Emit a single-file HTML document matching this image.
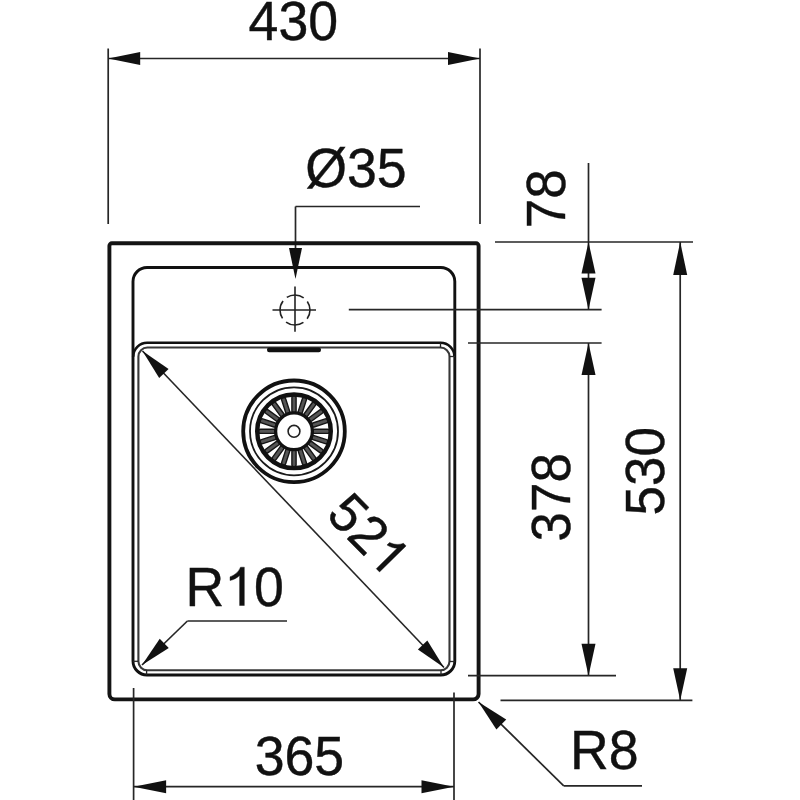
<!DOCTYPE html>
<html><head><meta charset="utf-8"><style>html,body{margin:0;padding:0;background:#fff;width:800px;height:800px;overflow:hidden}svg{display:block}text{font-family:"Liberation Sans",sans-serif}</style></head>
<body>
<svg width="800" height="800" viewBox="0 0 800 800">
<rect width="800" height="800" fill="#fff"/>
<line x1="108.2" y1="48.5" x2="108.2" y2="224" stroke="#262626" stroke-width="1.7"/>
<line x1="480" y1="48.5" x2="480" y2="224" stroke="#262626" stroke-width="1.7"/>
<line x1="108.2" y1="58.5" x2="480" y2="58.5" stroke="#262626" stroke-width="1.7"/>
<polygon points="108.20,58.50 140.20,52.00 140.20,65.00" fill="#111"/>
<polygon points="480.00,58.50 448.00,65.00 448.00,52.00" fill="#111"/>
<line x1="295.5" y1="206.5" x2="420" y2="206.5" stroke="#262626" stroke-width="1.7"/>
<line x1="295.5" y1="206.5" x2="295.5" y2="270" stroke="#262626" stroke-width="1.7"/>
<polygon points="295.50,279.00 289.00,248.00 302.00,248.00" fill="#111"/>
<path d="M111.9,243.3 L476.1,243.3 A2.5,2.5 0 0 1 478.6,245.8 L478.6,693.9 A5.5,5.5 0 0 1 473.1,699.4 L114.9,699.4 A5.5,5.5 0 0 1 109.4,693.9 L109.4,245.8 A2.5,2.5 0 0 1 111.9,243.3 Z" fill="none" stroke="#141414" stroke-width="3.9"/>
<rect x="133" y="267.5" width="321.8" height="407.5" rx="14" fill="none" stroke="#111" stroke-width="2.9"/>
<path d="M133.2,356.8 A14,14 0 0 1 147.2,342.8 L440.5,342.8 A14,14 0 0 1 454.5,356.8" fill="none" stroke="#111" stroke-width="2.6"/>
<rect x="138.4" y="347.5" width="311.1" height="322.8" rx="9" fill="none" stroke="#383838" stroke-width="2.1"/>
<line x1="440.5" y1="342.8" x2="440.5" y2="347.5" stroke="#262626" stroke-width="1.3"/>
<line x1="146.6" y1="670.3" x2="146.6" y2="675" stroke="#262626" stroke-width="1.3"/>
<line x1="441" y1="670.3" x2="441" y2="675" stroke="#262626" stroke-width="1.3"/>
<line x1="449.5" y1="661.5" x2="455" y2="661.5" stroke="#262626" stroke-width="1.3"/>
<line x1="133" y1="661.3" x2="138.4" y2="661.3" stroke="#262626" stroke-width="1.3"/>
<line x1="449.5" y1="356.5" x2="455" y2="356.5" stroke="#262626" stroke-width="1.3"/>
<rect x="267" y="347.4" width="54" height="4.8" rx="2.2" fill="#111"/>
<circle cx="295" cy="310" r="15" fill="none" stroke="#222" stroke-width="1.6" stroke-dasharray="18.5 5.06" stroke-dashoffset="9.25" transform="rotate(-90 295 310)"/>
<line x1="272.5" y1="310" x2="316" y2="310" stroke="#222" stroke-width="1.6"/>
<line x1="295" y1="286.4" x2="295" y2="331.8" stroke="#222" stroke-width="1.6"/>
<circle cx="294" cy="431.3" r="50.8" fill="none" stroke="#111" stroke-width="3.8"/>
<circle cx="294" cy="431.3" r="44" fill="none" stroke="#1a1a1a" stroke-width="1.8"/>
<rect x="291.9" y="395.8" width="4.2" height="17" rx="2" fill="#555" stroke="#151515" stroke-width="1.4" transform="rotate(0 294 431.3)"/>
<rect x="291.9" y="395.8" width="4.2" height="17" rx="2" fill="#555" stroke="#151515" stroke-width="1.4" transform="rotate(18 294 431.3)"/>
<rect x="291.9" y="395.8" width="4.2" height="17" rx="2" fill="#555" stroke="#151515" stroke-width="1.4" transform="rotate(36 294 431.3)"/>
<rect x="291.9" y="395.8" width="4.2" height="17" rx="2" fill="#555" stroke="#151515" stroke-width="1.4" transform="rotate(54 294 431.3)"/>
<rect x="291.9" y="395.8" width="4.2" height="17" rx="2" fill="#555" stroke="#151515" stroke-width="1.4" transform="rotate(72 294 431.3)"/>
<rect x="291.9" y="395.8" width="4.2" height="17" rx="2" fill="#555" stroke="#151515" stroke-width="1.4" transform="rotate(90 294 431.3)"/>
<rect x="291.9" y="395.8" width="4.2" height="17" rx="2" fill="#555" stroke="#151515" stroke-width="1.4" transform="rotate(108 294 431.3)"/>
<rect x="291.9" y="395.8" width="4.2" height="17" rx="2" fill="#555" stroke="#151515" stroke-width="1.4" transform="rotate(126 294 431.3)"/>
<rect x="291.9" y="395.8" width="4.2" height="17" rx="2" fill="#555" stroke="#151515" stroke-width="1.4" transform="rotate(144 294 431.3)"/>
<rect x="291.9" y="395.8" width="4.2" height="17" rx="2" fill="#555" stroke="#151515" stroke-width="1.4" transform="rotate(162 294 431.3)"/>
<rect x="291.9" y="395.8" width="4.2" height="17" rx="2" fill="#555" stroke="#151515" stroke-width="1.4" transform="rotate(180 294 431.3)"/>
<rect x="291.9" y="395.8" width="4.2" height="17" rx="2" fill="#555" stroke="#151515" stroke-width="1.4" transform="rotate(198 294 431.3)"/>
<rect x="291.9" y="395.8" width="4.2" height="17" rx="2" fill="#555" stroke="#151515" stroke-width="1.4" transform="rotate(216 294 431.3)"/>
<rect x="291.9" y="395.8" width="4.2" height="17" rx="2" fill="#555" stroke="#151515" stroke-width="1.4" transform="rotate(234 294 431.3)"/>
<rect x="291.9" y="395.8" width="4.2" height="17" rx="2" fill="#555" stroke="#151515" stroke-width="1.4" transform="rotate(252 294 431.3)"/>
<rect x="291.9" y="395.8" width="4.2" height="17" rx="2" fill="#555" stroke="#151515" stroke-width="1.4" transform="rotate(270 294 431.3)"/>
<rect x="291.9" y="395.8" width="4.2" height="17" rx="2" fill="#555" stroke="#151515" stroke-width="1.4" transform="rotate(288 294 431.3)"/>
<rect x="291.9" y="395.8" width="4.2" height="17" rx="2" fill="#555" stroke="#151515" stroke-width="1.4" transform="rotate(306 294 431.3)"/>
<rect x="291.9" y="395.8" width="4.2" height="17" rx="2" fill="#555" stroke="#151515" stroke-width="1.4" transform="rotate(324 294 431.3)"/>
<rect x="291.9" y="395.8" width="4.2" height="17" rx="2" fill="#555" stroke="#151515" stroke-width="1.4" transform="rotate(342 294 431.3)"/>
<circle cx="294" cy="431.3" r="36.8" fill="none" stroke="#111" stroke-width="4.4"/>
<circle cx="294" cy="431.3" r="18.4" fill="none" stroke="#111" stroke-width="3.3"/>
<circle cx="294" cy="431.3" r="5.9" fill="none" stroke="#222" stroke-width="1.6"/>
<line x1="142.5" y1="351" x2="444" y2="667.5" stroke="#262626" stroke-width="1.6"/>
<polygon points="142.50,351.00 168.59,368.96 159.18,377.93" fill="#111"/>
<polygon points="444.00,667.50 417.91,649.54 427.32,640.57" fill="#111"/>
<line x1="187.4" y1="621" x2="287" y2="621" stroke="#262626" stroke-width="1.7"/>
<line x1="187.4" y1="621" x2="142" y2="665" stroke="#262626" stroke-width="1.7"/>
<polygon points="142.00,665.00 159.74,638.76 168.78,648.09" fill="#111"/>
<line x1="588.5" y1="163" x2="588.5" y2="309.7" stroke="#262626" stroke-width="1.7"/>
<line x1="495" y1="242.0" x2="693" y2="242.0" stroke="#262626" stroke-width="1.7"/>
<line x1="348.8" y1="309.7" x2="601.6" y2="309.7" stroke="#262626" stroke-width="1.7"/>
<line x1="468" y1="343" x2="601.6" y2="343" stroke="#262626" stroke-width="1.7"/>
<polygon points="588.50,242.00 595.50,273.50 581.50,273.50" fill="#111"/>
<polygon points="588.50,309.70 581.50,277.70 595.50,277.70" fill="#111"/>
<line x1="588.5" y1="343" x2="588.5" y2="675.7" stroke="#262626" stroke-width="1.7"/>
<polygon points="588.50,343.00 595.50,375.00 581.50,375.00" fill="#111"/>
<polygon points="588.50,675.70 581.50,643.70 595.50,643.70" fill="#111"/>
<line x1="468" y1="675.7" x2="616" y2="675.7" stroke="#262626" stroke-width="1.7"/>
<line x1="680.2" y1="242.0" x2="680.2" y2="700.3" stroke="#262626" stroke-width="1.7"/>
<polygon points="680.20,242.00 687.20,275.00 673.20,275.00" fill="#111"/>
<polygon points="680.20,700.30 673.20,668.30 687.20,668.30" fill="#111"/>
<line x1="500.5" y1="700.3" x2="692.4" y2="700.3" stroke="#262626" stroke-width="1.7"/>
<line x1="133.6" y1="688" x2="133.6" y2="800" stroke="#262626" stroke-width="1.7"/>
<line x1="454" y1="692.4" x2="454" y2="800" stroke="#262626" stroke-width="1.7"/>
<line x1="133.6" y1="786.7" x2="454" y2="786.7" stroke="#262626" stroke-width="1.7"/>
<polygon points="133.60,786.70 166.10,780.20 166.10,793.20" fill="#111"/>
<polygon points="454.00,786.70 421.50,793.20 421.50,780.20" fill="#111"/>
<line x1="478.5" y1="702" x2="563.75" y2="785.9" stroke="#262626" stroke-width="1.7"/>
<line x1="563.75" y1="785.9" x2="642" y2="785.9" stroke="#262626" stroke-width="1.7"/>
<polygon points="478.50,702.00 506.22,719.46 496.40,729.44" fill="#111"/>
<g font-family="Liberation Sans, sans-serif" font-size="54.5" fill="#111" stroke="#111" stroke-width="0.4" text-anchor="middle">
<g transform="translate(293.3 39.5) scale(0.985 1.03)"><text>430</text></g>
<g transform="translate(356 186.7) scale(0.985 1.03)"><text>Ø35</text></g>
<g transform="translate(234.6 605.5) scale(0.985 1.03)"><text>R&#x2007;0</text><path transform="translate(-10.63 0)" d="M20.5,0 L20.5,-37.2 L16.6,-37.2 C14.8,-32.6 10.8,-29.6 6.0,-27.8 L6.0,-24.2 C9.6,-25.0 13.2,-26.8 15.7,-29.2 L15.7,0 Z"/></g>
<g transform="translate(299.4 774.7) scale(0.985 1.03)"><text>365</text></g>
<g transform="translate(604.3 769.2) scale(0.985 1.03)"><text>R8</text></g>
<g transform="translate(565 198.8) rotate(-90) scale(0.972 1.03)"><text>78</text></g>
<g transform="translate(570.3 497.2) rotate(-90) scale(0.972 1.03)"><text>378</text></g>
<g transform="translate(663.6 471.2) rotate(-90) scale(0.972 1.03)"><text>530</text></g>
<g transform="translate(355.4 547.4) rotate(45.5) scale(0.965 1.0)"><text>52&#x2007;</text><path transform="translate(15.17 0)" d="M20.5,0 L20.5,-37.2 L16.6,-37.2 C14.8,-32.6 10.8,-29.6 6.0,-27.8 L6.0,-24.2 C9.6,-25.0 13.2,-26.8 15.7,-29.2 L15.7,0 Z"/></g>
</g>
</svg>
</body></html>
